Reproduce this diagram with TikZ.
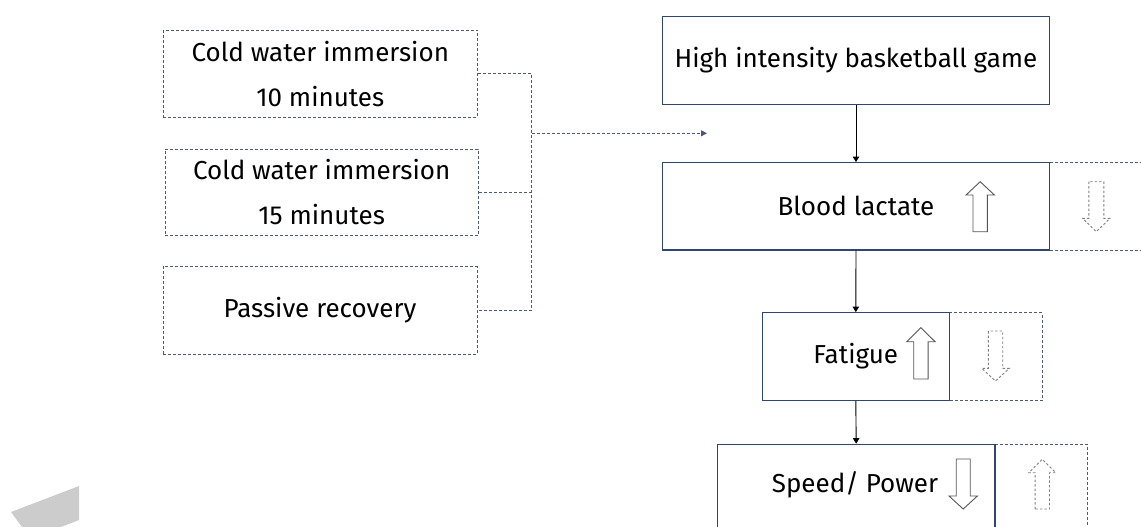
\documentclass[tikz,border=0pt]{standalone}
\usepackage{fontspec}
\setmainfont{Fira Sans}
\usetikzlibrary{arrows.meta}
\definecolor{boxc}{HTML}{2E4670}
\definecolor{dashc}{HTML}{4A5A78}
\definecolor{harr}{HTML}{555555}
\definecolor{dharr}{HTML}{808080}
\definecolor{wm}{HTML}{CCCCCC}
\newcommand\myarrow[7]{% style, cx, half shaft, half head, tail, headbase, tip
  \draw[#1] (#2-#3,#5) -- (#2-#3,#6) -- (#2-#4,#6) -- (#2,#7) -- (#2+#4,#6) -- (#2+#3,#6) -- (#2+#3,#5) -- cycle;}
\tikzset{
  solidbox/.style={draw=boxc, line width=1.2pt, rectangle, inner sep=0pt, align=center},
  dashbox/.style={draw=dashc, line width=0.9pt, dash pattern=on 3pt off 2pt, rectangle, inner sep=0pt, align=center},
  dashline/.style={draw=dashc, line width=0.9pt, dash pattern=on 3pt off 2pt},
  flow/.style={draw=black, line width=0.9pt, -{Triangle[width=6.5pt,length=5.5pt]}},
  uparr/.style={draw=harr, line width=0.9pt, fill=white},
  dparr/.style={draw=dharr, line width=0.9pt, dash pattern=on 2.5pt off 2pt, fill=white},
  txt/.style={font=\fontsize{26}{45}\selectfont}
}
\begin{document}
\begin{tikzpicture}[x=1pt,y=-1pt]
\useasboundingbox (0,0) rectangle (1141,527);
\clip (0,0) rectangle (1141,527);
% watermark fragment
\fill[wm] (11,512) -- (79,486) -- (79,520) -- (61,527) -- (22,527) -- cycle;
% left boxes
\node[dashbox, txt, minimum width=314pt, minimum height=87.3pt] (b1) at (320.3,73.7) {Cold water immersion\\10 minutes};
\node[dashbox, txt, minimum width=313.3pt, minimum height=86.7pt] (b2) at (321.7,192.3) {Cold water immersion\\15 minutes};
\node[dashbox, txt, minimum width=314pt, minimum height=87.3pt] (b3) at (320,310.3) {Passive recovery};
% connectors from left boxes
\coordinate (j) at (531.7,133.3);
\coordinate (t) at (707,133.3);
\draw[dashline] (b1.east) -- (b1.east -| j) -- (b3.east -| j) -- (b3.east);
\draw[dashline] (b2.east) -- (b2.east -| j);
\draw[dashline, -{Triangle[width=6pt,length=6pt]}] (j) -- (t);
% right side dashed extensions
\draw[dashline] (1049.7,162.7) -- (1150,162.7);
\draw[dashline] (1049.7,250) -- (1150,250);
\draw[dashline] (949.3,312.7) -- (1042.3,312.7) -- (1042.3,400.3) -- (949.3,400.3);
\draw[dashline] (995,444.3) -- (1087.7,444.3) -- (1087.7,540);
% main boxes
\node[solidbox, txt, minimum width=387.4pt, minimum height=87.6pt] (h) at (856,60.5) {High intensity basketball game};
\node[solidbox, txt, minimum width=387.4pt, minimum height=87.3pt] (bl) at (856,206.3) {Blood lactate};
\node[solidbox, txt, minimum width=187pt, minimum height=87.6pt] (f) at (855.8,356.5) {Fatigue};
\node[solidbox, minimum width=277.7pt, minimum height=95pt] (s) at (856.2,491.8) {};
\node[txt] (st) at (855,485) {Speed/ Power};
% flow arrows
\draw[flow] (h.south) -- (bl.north);
\draw[flow] (bl.south) -- (f.north);
\draw[flow] (f.south) -- (s.north);
% hollow arrows
\myarrow{uparr}{980.2}{7.2}{14.2}{231.7}{195}{181.7}
\myarrow{dparr}{1096.3}{7.5}{13.7}{181.7}{218.3}{231.7}
\myarrow{uparr}{920.9}{7.2}{14.2}{379}{341.7}{327.7}
\myarrow{dparr}{995.5}{7.2}{13.8}{331}{368.3}{381}
\myarrow{uparr}{963.2}{7}{14.2}{459}{496}{509}
\myarrow{dparr}{1042.3}{7.2}{13.5}{509}{472.7}{459.3}
\end{tikzpicture}
\end{document}
